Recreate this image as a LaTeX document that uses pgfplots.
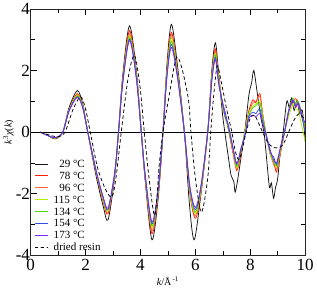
\documentclass[border=0pt]{standalone}
\usepackage{fontspec}
\setmainfont{Liberation Serif}
\usepackage{pgfplots}
\usepackage{pgfplotstable}
\pgfplotsset{compat=1.18}
\definecolor{cA}{RGB}{20,20,20}
\definecolor{cB}{RGB}{255,30,0}
\definecolor{cC}{RGB}{255,100,50}
\definecolor{cD}{RGB}{175,240,0}
\definecolor{cE}{RGB}{70,215,0}
\definecolor{cF}{RGB}{50,80,230}
\definecolor{cG}{RGB}{120,40,250}
\pgfplotstableread{
k     r78   o96   y115  g134  s154  v173
0.35  0     0     0     0     0     0
0.6   -0.1  -0.1  -0.1  -0.1  -0.1  -0.1
0.9   -0.2  -0.2  -0.19 -0.19 -0.18 -0.18
1.17  0     0     0     0     0     0
1.4   0.75  0.73  0.72  0.71  0.7   0.68
1.7   1.25  1.22  1.2   1.18  1.15  1.13
1.9   0.85  0.83  0.82  0.8   0.78  0.77
2.08  0     0     0     0     0     0
2.39  -1.35 -1.33 -1.3  -1.3  -1.28 -1.27
2.64  -2.25 -2.22 -2.18 -2.15 -2.12 -2.1
2.82  -2.65 -2.6  -2.55 -2.52 -2.5  -2.46
3.06  -1.4  -1.38 -1.36 -1.35 -1.33 -1.32
3.2   0     0     0     0     0     0
3.35  1.7   1.66  1.62  1.6   1.57  1.54
3.6   3.3   3.2   3.12  3.07  3.02  2.97
3.85  1.9   1.86  1.82  1.8   1.76  1.73
4.03  0     0     0     0     0     0
4.17  -1.5  -1.47 -1.43 -1.41 -1.38 -1.35
4.42  -3.3  -3.2  -3.1  -3.05 -2.98 -2.92
4.65  -2.0  -1.95 -1.9  -1.88 -1.84 -1.8
4.82  0     0     0     0     0     0
4.97  2.1   2.05  1.98  1.94  1.88  1.83
5.13  3.24  3.15  3.05  2.95  2.85  2.75
5.35  2.0   1.95  1.9   1.85  1.8   1.75
5.6   0     0     0     0     0     0
5.8   -2.0  -1.95 -1.9  -1.85 -1.8  -1.75
6.0   -2.8  -2.72 -2.65 -2.6  -2.52 -2.45
6.2   -2.0  -1.95 -1.9  -1.85 -1.8  -1.75
6.45  0     0     0     0     0     0
6.6   1.9   1.85  1.8   1.75  1.7   1.65
6.73  2.7   2.62  2.55  2.5   2.42  2.35
6.85  1.8   1.75  1.7   1.65  1.6   1.55
7.0   0.8   0.8   0.85  0.85  0.9   0.95
7.1   0.45  0.5   0.4   0.55  0.45  0.6
7.2   0.1   0.15  0.2   0.1   0.25  0.2
7.35  -0.6  -0.55 -0.5  -0.45 -0.45 -0.4
7.42  -0.85 -0.95 -0.75 -0.8  -0.7  -0.75
7.5   -1.25 -1.2  -1.15 -1.1  -1.05 -1.0
7.58  -1.05 -1.1  -0.95 -0.95 -0.85 -0.9
7.65  -0.8  -0.75 -0.7  -0.65 -0.6  -0.55
7.8   0.0   0.0   0.0   -0.05 -0.1  -0.15
7.95  0.7   0.65  0.6   0.55  0.5   0.45
8.1   1.05  0.95  0.85  0.8   0.65  0.55
8.2   0.95  1.0   0.9   0.85  0.6   0.5
8.35  1.25  1.15  1.0   0.95  0.75  0.6
8.45  0.6   0.6   0.5   0.5   0.35  0.3
8.6   -0.2  -0.15 -0.2  -0.15 -0.2  -0.15
8.75  -0.8  -0.75 -0.8  -0.7  -0.7  -0.65
8.85  -0.95 -1.05 -0.9  -0.95 -0.8  -0.9
8.95  -1.3  -1.2  -1.15 -1.1  -1.05 -1.0
9.02  -1.0  -1.1  -0.9  -0.95 -0.85 -0.8
9.1   -0.7  -0.65 -0.6  -0.55 -0.5  -0.5
9.25  0     0     0     0     0     0
9.4   0.7   0.65  0.5   0.7   0.7   0.65
9.55  1.05  0.95  0.9   1.1   1.0   1.05
9.65  0.8   1.1   0.75  0.9   0.85  0.8
9.75  0.95  0.85  0.7   1.0   0.9   0.95
9.9   0.5   0.45  0.1   0.5   0.4   0.5
10.0  0.2   0.1   -0.3  0.2   0.0   0.3
}\coltab
\begin{document}
\begin{tikzpicture}
\begin{axis}[
  scale only axis, width=273bp, height=245bp,
  xmin=0, xmax=10, ymin=-4, ymax=4,
  xtick={0,2,...,10}, ytick={-4,-2,...,4},
  minor xtick={1,3,...,9}, minor ytick={-3,-1,...,3},
  tick align=inside, major tick length=6bp, minor tick length=4bp,
  major tick style={black, line width=0.6pt},
  minor tick style={black, line width=0.6pt},
  axis line style={line width=0.8pt, black!85},
  /pgf/number format/assume math mode=true,
  ticklabel style={font=\fontsize{17}{17}\selectfont},
  yticklabel style={inner xsep=0.5pt},
  xlabel={\textit{k}/Å\textsuperscript{\,-1}},
  ylabel={\textit{k}\textsuperscript{3}\textit{χ}(\textit{k})},
  label style={font=\fontsize{10}{12}\selectfont},
  ylabel style={yshift=-2pt},
  legend style={at={(0.012,0.40)}, anchor=north west, draw=none,
    fill=white, fill opacity=0, text opacity=1,
    inner sep=0pt, column sep=4pt, row sep=-2pt,
    font=\fontsize{11}{12}\selectfont},
  legend cell align=left,
  legend image post style={xscale=0.75},
]
\addplot[black, line width=0.8pt, forget plot] coordinates {(0,0)(10,0)};
\addplot[draw=cA, line width=0.75pt, smooth, tension=0.5] coordinates {(0.35,0)(0.6,-0.1)(0.9,-0.22)(1.17,0)(1.4,0.8)(1.7,1.35)(1.9,0.9)(2.08,0)(2.39,-1.45)(2.64,-2.4)(2.82,-2.85)(3.06,-1.45)(3.2,0)(3.35,1.8)(3.6,3.45)(3.85,2.0)(4.03,0)(4.17,-1.55)(4.42,-3.5)(4.65,-2.1)(4.82,0)(4.97,2.25)(5.13,3.5)(5.35,2.15)(5.6,0)(5.78,-2.3)(5.95,-3.5)(6.15,-2.4)(6.45,0)(6.6,2.0)(6.73,2.9)(6.85,1.9)(7.0,0.5)(7.2,-0.8)(7.3,-1.4)(7.4,-1.6)(7.45,-1.95)(7.55,-1.5)(7.7,-0.6)(7.8,0)(7.95,1.2)(8.05,1.6)(8.13,2.0)(8.25,1.3)(8.4,0.4)(8.5,0)(8.6,-0.9)(8.7,-1.8)(8.77,-1.65)(8.85,-2.15)(8.92,-1.8)(9.0,-1.5)(9.1,-0.6)(9.2,0)(9.33,1.0)(9.42,0.8)(9.5,1.1)(9.6,0.7)(9.7,1.05)(9.8,0.6)(9.9,0.7)(10.0,-0.3)};
\addlegendentry{\strut\phantom{1}29 °C}
\addplot[draw=cB, line width=0.75pt, smooth, tension=0.5] table[x=k, y=r78] {\coltab};
\addlegendentry{\strut\phantom{1}78 °C}
\addplot[draw=cC, line width=0.75pt, smooth, tension=0.5] table[x=k, y=o96] {\coltab};
\addlegendentry{\strut\phantom{1}96 °C}
\addplot[draw=cD, line width=0.75pt, smooth, tension=0.5] table[x=k, y=y115] {\coltab};
\addlegendentry{\strut 115 °C}
\addplot[draw=cE, line width=0.75pt, smooth, tension=0.5] table[x=k, y=g134] {\coltab};
\addlegendentry{\strut 134 °C}
\addplot[draw=cF, line width=0.75pt, smooth, tension=0.5] table[x=k, y=s154] {\coltab};
\addlegendentry{\strut 154 °C}
\addplot[draw=cG, line width=0.75pt, smooth, tension=0.5] table[x=k, y=v173] {\coltab};
\addlegendentry{\strut 173 °C}
\addplot[draw=black, line width=0.75pt, smooth, tension=0.5, dash pattern=on 3.5pt off 2.5pt] coordinates {(0.35,0)(0.7,-0.1)(1.0,-0.15)(1.25,0)(1.55,0.75)(1.82,1.15)(2.0,0.75)(2.17,0)(2.45,-1.2)(2.75,-1.9)(2.97,-2.1)(3.12,-1.4)(3.3,0)(3.55,1.75)(3.78,2.5)(3.98,1.5)(4.14,0)(4.3,-1.4)(4.5,-2.7)(4.6,-2.1)(4.68,-1.1)(4.82,0)(5.02,1.05)(5.3,2.4)(5.5,2.1)(5.75,1.05)(5.84,0)(6.0,-1.5)(6.22,-2.6)(6.45,-1.5)(6.56,0)(6.68,1.3)(6.8,2.15)(6.95,1.6)(7.15,0.7)(7.33,0)(7.45,-0.6)(7.58,-0.9)(7.7,-0.6)(7.85,0)(8.0,0.45)(8.15,0.55)(8.3,0.3)(8.45,0)(8.65,-0.35)(8.85,-0.5)(9.05,-0.5)(9.2,-0.4)(9.4,0)(9.6,0.4)(9.78,0.6)(9.9,0.5)(10.0,0.4)};
\addlegendentry{\strut dried resin}
\end{axis}
\end{tikzpicture}
\end{document}
